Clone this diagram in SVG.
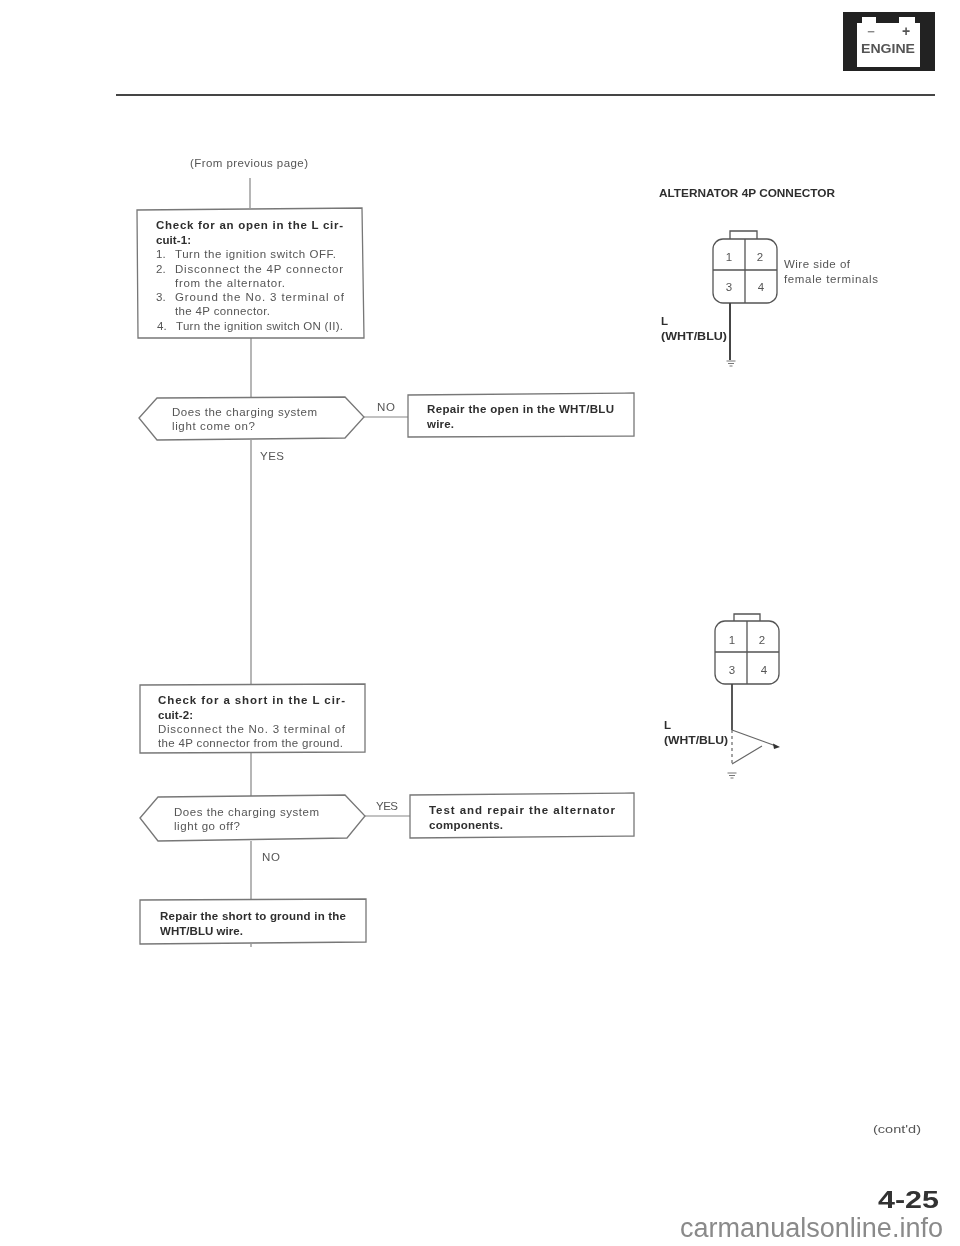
<svg xmlns="http://www.w3.org/2000/svg" width="960" height="1246" viewBox="0 0 960 1246">
<defs>
<filter id="soft" filterUnits="userSpaceOnUse" x="0" y="0" width="960" height="1246"><feGaussianBlur stdDeviation="0.55"/></filter>
<g id="ground"><path d="M-4.500 0H4.500M-3 2.500H3M-1.500 5H1.500"/></g>
</defs>
<style>
text{font-family:"Liberation Sans",Arial,sans-serif}
.t{font-size:11.5px;fill:#555}
.b{font-size:11.5px;font-weight:bold;fill:#2e2e2e}
.box{fill:#fff;stroke:#777;stroke-width:1.3}
.line{fill:none;stroke:#858585;stroke-width:1.2}
.dk{fill:none;stroke:#555;stroke-width:1.3}
</style>
<rect width="960" height="1246" fill="#fff"/>
<g filter="url(#soft)">
<g id="header">
<rect x="843" y="12" width="92" height="59" fill="#222"/>
<path d="M857 23H862V17H876V23H899V17H915V23H920V67H857Z" fill="#fff"/>
<text x="871" y="36" font-size="13" font-weight="bold" fill="#888" text-anchor="middle">−</text>
<text x="906" y="36" font-size="14" font-weight="bold" fill="#555" text-anchor="middle">+</text>
<text x="861" y="53" font-size="13" font-weight="bold" fill="#555" textLength="54" lengthAdjust="spacingAndGlyphs">ENGINE</text>
<rect x="116" y="94" width="819" height="2" fill="#444"/>
</g>
<g id="connectors">
<path class="line" d="M250 178V208"/>
<path class="line" d="M251 338V397"/>
<path class="line" d="M364 417H408"/>
<path class="line" d="M251 440V684"/>
<path class="line" d="M251 753V796"/>
<path class="line" d="M365 816H410"/>
<path class="line" d="M251 841V899"/>
<path class="line" d="M251 944V947"/>
</g>
<text id="from" class="t" x="190" y="167" textLength="118">(From previous page)</text>
<g id="node-check-open">
<path class="box" d="M137 210L362 208L364 338L138 338Z"/>
<text class="b" x="156" y="229" textLength="187">Check for an open in the L cir-</text>
<text class="b" x="156" y="244" textLength="35">cuit-1:</text>
<text class="t" x="156" y="258">1.</text><text class="t" x="175" y="258" textLength="161">Turn the ignition switch OFF.</text>
<text class="t" x="156" y="272.500">2.</text><text class="t" x="175" y="272.500" textLength="168">Disconnect the 4P connector</text>
<text class="t" x="175" y="287" textLength="110">from the alternator.</text>
<text class="t" x="156" y="301">3.</text><text class="t" x="175" y="301" textLength="169">Ground the No. 3 terminal of</text>
<text class="t" x="175" y="315" textLength="95">the 4P connector.</text>
<text class="t" x="157" y="330">4.</text><text class="t" x="176" y="330" textLength="167">Turn the ignition switch ON (II).</text>
</g>
<g id="node-decision-1">
<path class="box" d="M139 418L157 398L345 397L364 417L345 438L157 440Z"/>
<text class="t" x="172" y="416" textLength="145">Does the charging system</text>
<text class="t" x="172" y="430" textLength="83">light come on?</text>
</g>
<text class="t" x="377" y="411" textLength="18">NO</text>
<text class="t" x="260" y="460" textLength="24">YES</text>
<g id="node-repair-open">
<path class="box" d="M408 395L634 393L634 436L408 437Z"/>
<text class="b" x="427" y="413" textLength="187">Repair the open in the WHT/BLU</text>
<text class="b" x="427" y="428" textLength="27">wire.</text>
</g>
<g id="node-check-short">
<path class="box" d="M140 685L365 684L365 752L140 753Z"/>
<text class="b" x="158" y="704" textLength="187">Check for a short in the L cir-</text>
<text class="b" x="158" y="719" textLength="35">cuit-2:</text>
<text class="t" x="158" y="733" textLength="187">Disconnect the No. 3 terminal of</text>
<text class="t" x="158" y="747" textLength="185">the 4P connector from the ground.</text>
</g>
<g id="node-decision-2">
<path class="box" d="M140 818L158 797L345 795L365 816L347 838L158 841Z"/>
<text class="t" x="174" y="816" textLength="145">Does the charging system</text>
<text class="t" x="174" y="830" textLength="66">light go off?</text>
</g>
<text class="t" x="376" y="810" textLength="22">YES</text>
<text class="t" x="262" y="861" textLength="18">NO</text>
<g id="node-test">
<path class="box" d="M410 795L634 793L634 836L410 838Z"/>
<text class="b" x="429" y="814" textLength="186">Test and repair the alternator</text>
<text class="b" x="429" y="829" textLength="74">components.</text>
</g>
<g id="node-repair-short">
<path class="box" d="M140 900L366 899L366 942L140 944Z"/>
<text class="b" x="160" y="920" textLength="186">Repair the short to ground in the</text>
<text class="b" x="160" y="935" textLength="83">WHT/BLU wire.</text>
</g>
<g id="connector-diagram-1">
<text class="b" x="659" y="197" textLength="176" lengthAdjust="spacingAndGlyphs">ALTERNATOR 4P CONNECTOR</text>
<path class="dk" d="M730 239V231H757V239"/>
<rect class="dk" x="713" y="239" width="64" height="64" rx="10"/>
<path class="dk" d="M745 239V303M713 270H777"/>
<text class="t" x="729" y="261" text-anchor="middle">1</text><text class="t" x="760" y="261" text-anchor="middle">2</text>
<text class="t" x="729" y="291" text-anchor="middle">3</text><text class="t" x="761" y="291" text-anchor="middle">4</text>
<text class="t" x="784" y="268" textLength="66">Wire side of</text>
<text class="t" x="784" y="283" textLength="94">female terminals</text>
<text class="b" x="661" y="325">L</text>
<text class="b" x="661" y="340" textLength="66" lengthAdjust="spacingAndGlyphs">(WHT/BLU)</text>
<path d="M730 303V360" fill="none" stroke="#444" stroke-width="2"/>
<use href="#ground" x="731" y="361" fill="none" stroke="#777"/>
</g>
<g id="connector-diagram-2">
<path class="dk" d="M734 621V614H760V621"/>
<rect class="dk" x="715" y="621" width="64" height="63" rx="10"/>
<path class="dk" d="M747 621V684M715 652H779"/>
<text class="t" x="732" y="644" text-anchor="middle">1</text><text class="t" x="762" y="644" text-anchor="middle">2</text>
<text class="t" x="732" y="674" text-anchor="middle">3</text><text class="t" x="764" y="674" text-anchor="middle">4</text>
<text class="b" x="664" y="729">L</text>
<text class="b" x="664" y="744" textLength="64" lengthAdjust="spacingAndGlyphs">(WHT/BLU)</text>
<path d="M732 684V730" fill="none" stroke="#444" stroke-width="1.800"/>
<path d="M732 730V765" fill="none" stroke="#666" stroke-width="1.200" stroke-dasharray="3 3"/>
<path d="M732 730L776 746M732 764L762 746" fill="none" stroke="#666" stroke-width="1.200"/>
<path d="M780 747L773 743.500L774 749Z" fill="#333"/>
<use href="#ground" x="732" y="773" fill="none" stroke="#777"/>
</g>
<g id="page-marks">
<text class="t" x="873" y="1133" textLength="48" lengthAdjust="spacingAndGlyphs">(cont'd)</text>
<text x="878" y="1208" font-size="24" font-weight="bold" fill="#333" textLength="61" lengthAdjust="spacingAndGlyphs">4-25</text>
</g>
</g>
<text id="watermark" x="680" y="1237" font-size="27" fill="#8a8a8a" textLength="263" lengthAdjust="spacingAndGlyphs">carmanualsonline.info</text>
</svg>
